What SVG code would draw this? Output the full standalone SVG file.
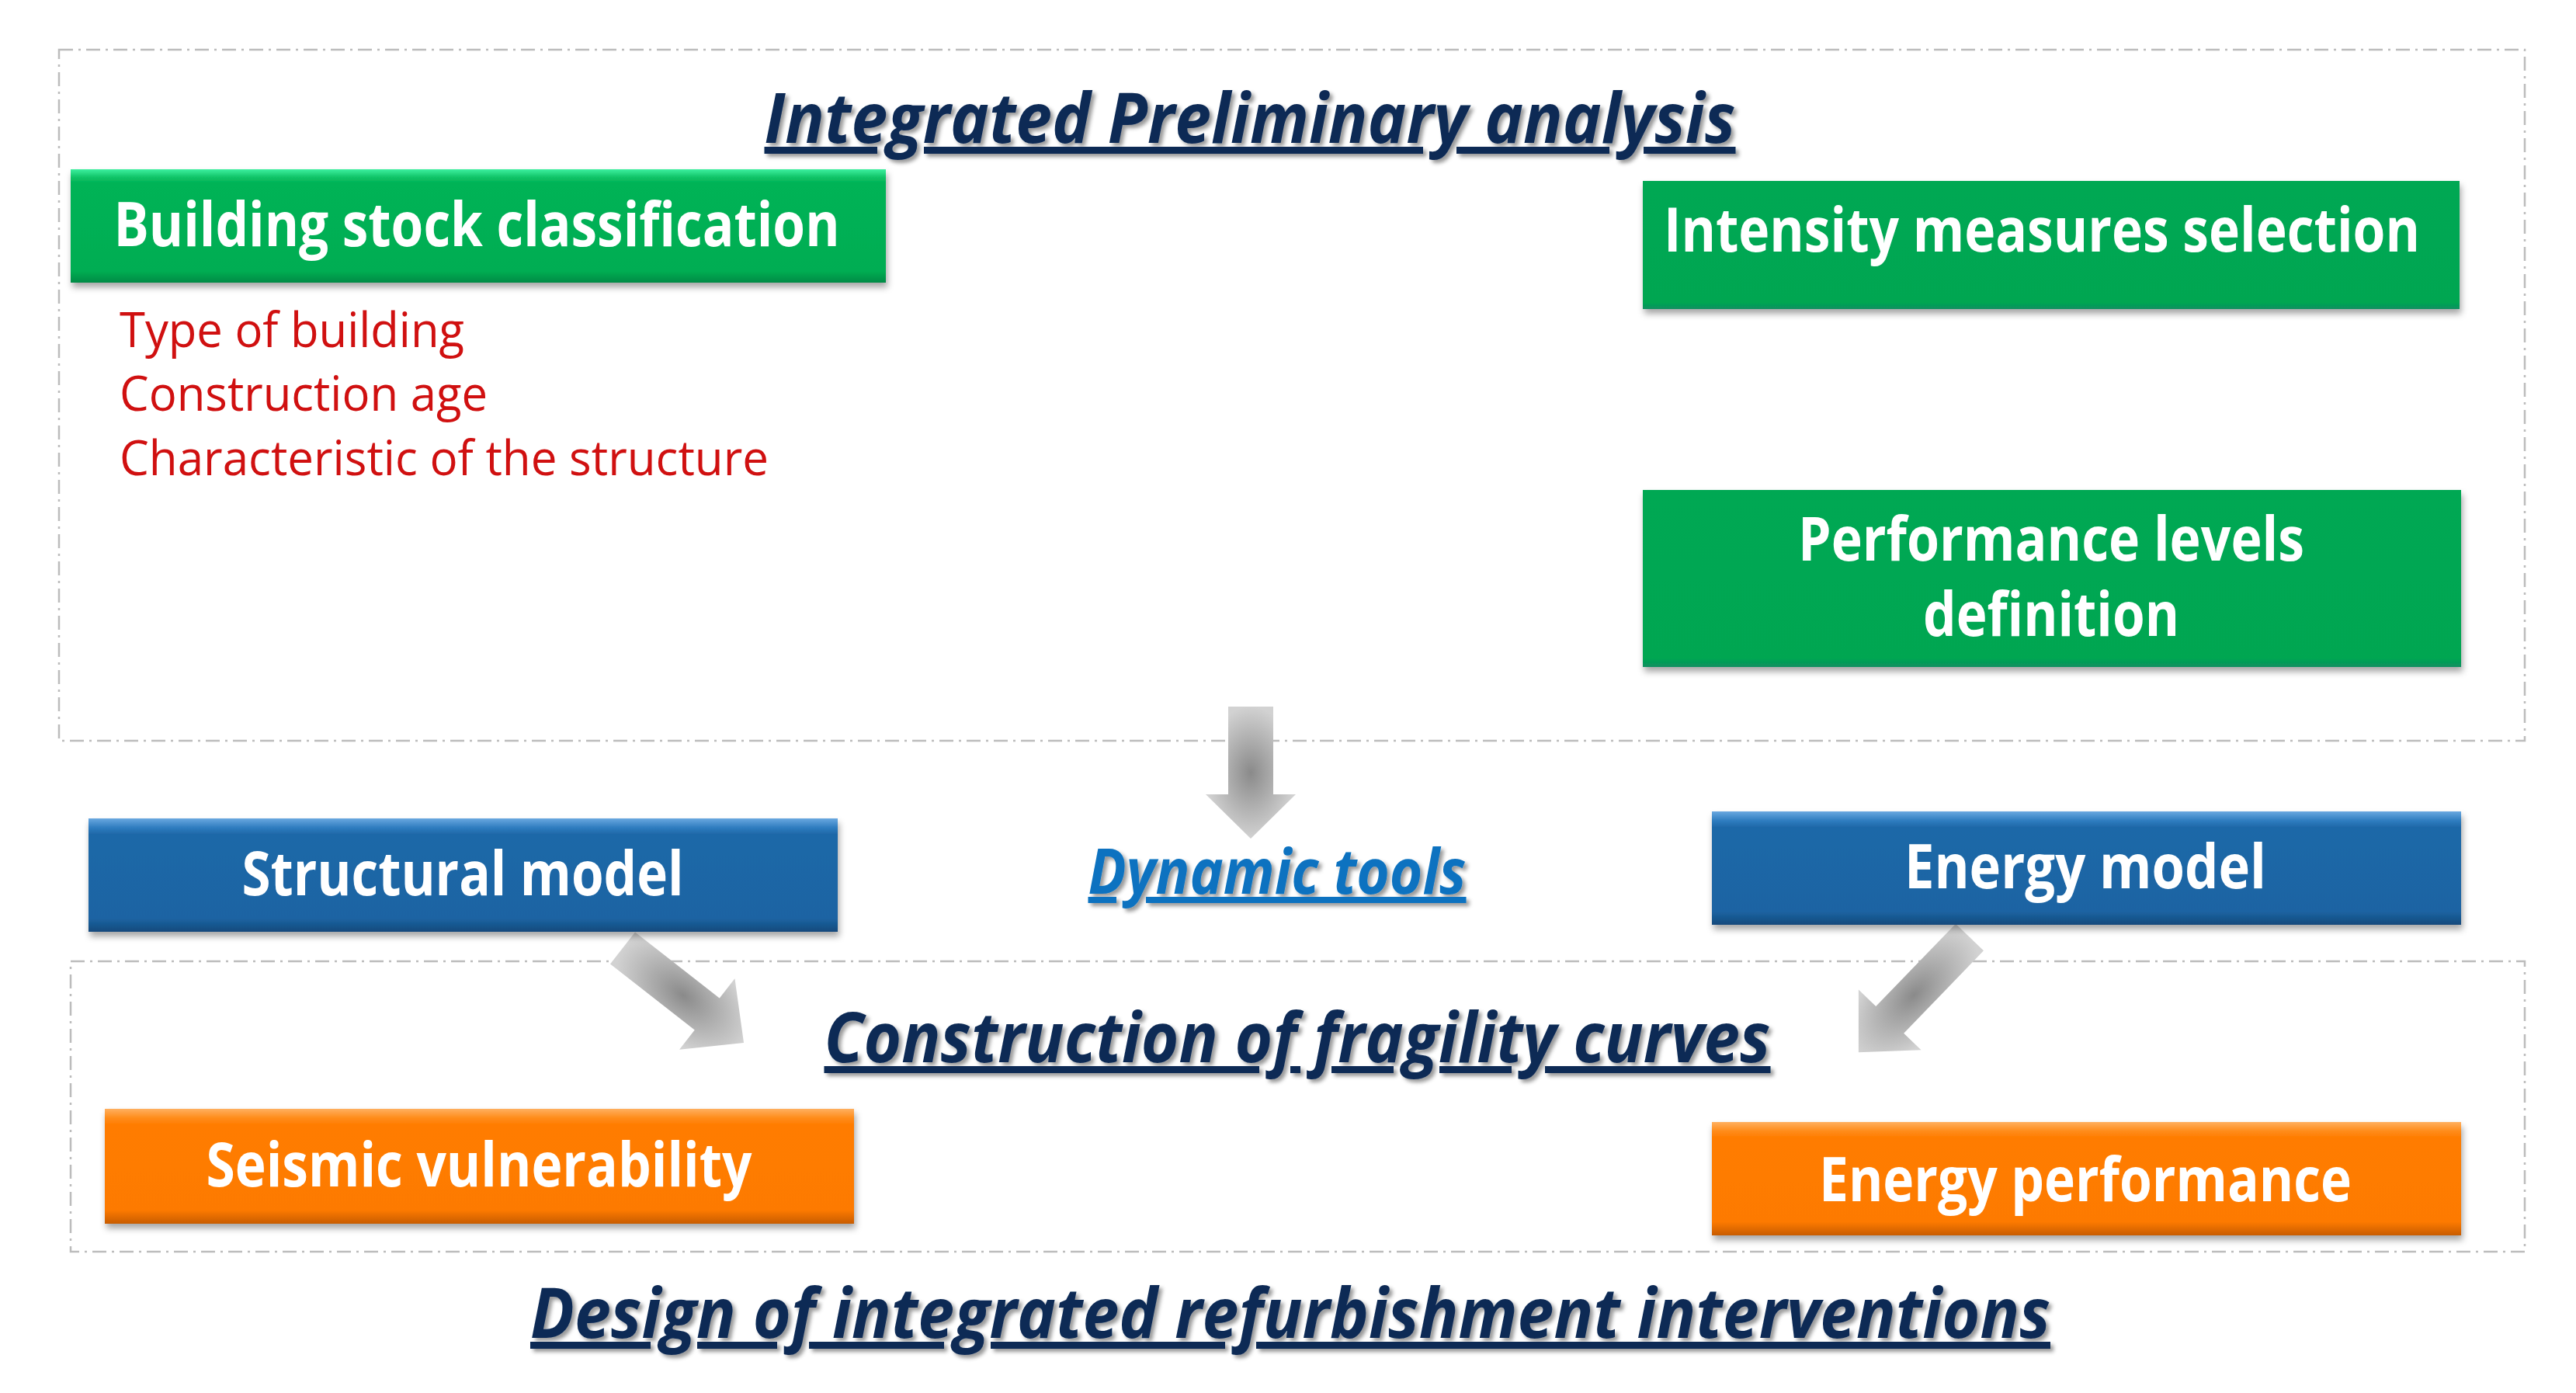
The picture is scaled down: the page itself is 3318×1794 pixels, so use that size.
<svg xmlns="http://www.w3.org/2000/svg" width="3318" height="1794" viewBox="0 0 3318 1794">
<defs>
<style>
.frame{fill:none;stroke:#bcbcbc;stroke-width:2.5;stroke-dasharray:18 7 3 7}
.bt{font-family:"Open Sans","Liberation Sans",sans-serif;font-weight:700;font-size:78px;fill:#ffffff}
.head{font-family:"Open Sans","Liberation Sans",sans-serif;font-weight:700;font-style:italic;font-size:90px;fill:#0c2a55;text-decoration:underline}
.red{font-family:"Open Sans","Liberation Sans",sans-serif;font-size:62px;fill:#d01010}
.dyn{font-family:"Open Sans","Liberation Sans",sans-serif;font-weight:700;font-style:italic;font-size:80px;fill:#0a72c0;text-decoration:underline}
</style>
<linearGradient id="gGreen" x1="0" y1="0" x2="0" y2="1">
<stop offset="0" stop-color="#3cf0a0"/><stop offset="0.07" stop-color="#12c468"/><stop offset="0.12" stop-color="#00b356"/><stop offset="0.9" stop-color="#00ad52"/><stop offset="1" stop-color="#068a45"/>
</linearGradient>
<linearGradient id="gGreen2" x1="0" y1="0" x2="0" y2="1">
<stop offset="0" stop-color="#00a853"/><stop offset="0.95" stop-color="#00a651"/><stop offset="1" stop-color="#0b8f60"/>
</linearGradient>
<linearGradient id="gBlue" x1="0" y1="0" x2="0" y2="1">
<stop offset="0" stop-color="#6aa8e0"/><stop offset="0.08" stop-color="#2f7dc0"/><stop offset="0.14" stop-color="#1f68a8"/><stop offset="0.88" stop-color="#1c64a3"/><stop offset="1" stop-color="#134a7c"/>
</linearGradient>
<linearGradient id="gOrange" x1="0" y1="0" x2="0" y2="1">
<stop offset="0" stop-color="#ffb060"/><stop offset="0.08" stop-color="#ff8c1a"/><stop offset="0.14" stop-color="#ff7c00"/><stop offset="0.88" stop-color="#fd7a02"/><stop offset="1" stop-color="#c85c00"/>
</linearGradient>
<radialGradient id="gArrow" cx="0.5" cy="0.5" r="0.5">
<stop offset="0" stop-color="#8a8a8a"/><stop offset="1" stop-color="#d2d2d2"/>
</radialGradient>
<filter id="shadow" x="-5%" y="-10%" width="110%" height="130%">
<feDropShadow dx="2" dy="6" stdDeviation="4" flood-color="#000000" flood-opacity="0.35"/>
</filter>
<filter id="tshadow" x="-5%" y="-20%" width="110%" height="150%">
<feDropShadow dx="4" dy="4" stdDeviation="2.5" flood-color="#000000" flood-opacity="0.4"/>
</filter>
</defs>
<rect width="3318" height="1794" fill="#ffffff"/>

<g id="frame-preliminary"><rect class="frame" x="76" y="64" width="3176" height="890"/></g>
<g id="frame-fragility"><rect class="frame" x="91" y="1238" width="3161" height="374"/></g>

<g id="connectors">
<g id="arrow-down" transform="translate(1611,910) rotate(90)">
<polygon points="0,-29 113,-29 113,-58 170,0 113,58 113,29 0,29" fill="url(#gArrow)"/>
</g>
<g id="arrow-structural" transform="translate(802,1221) rotate(38)">
<polygon points="0,-26 138,-26 138,-58 198,0 138,58 138,26 0,26" fill="url(#gArrow)"/>
</g>
<g id="arrow-energy" transform="translate(2537,1207) rotate(134)">
<polygon points="0,-25 148,-25 148,-56 206,0 148,56 148,25 0,25" fill="url(#gArrow)"/>
</g>
</g>

<g id="title-preliminary"><text class="head" x="1610" y="184" text-anchor="middle" textLength="1251" lengthAdjust="spacingAndGlyphs" filter="url(#tshadow)">Integrated Preliminary analysis</text></g>

<g id="node-building-stock">
<rect x="91" y="218" width="1050" height="146" fill="url(#gGreen)" filter="url(#shadow)"/>
<text class="bt" x="614" y="317" text-anchor="middle" textLength="935" lengthAdjust="spacingAndGlyphs">Building stock classification</text>
</g>
<g id="building-attributes">
<text class="red" x="154" y="447" textLength="444" lengthAdjust="spacingAndGlyphs">Type of building</text>
<text class="red" x="154" y="529" textLength="474" lengthAdjust="spacingAndGlyphs">Construction age</text>
<text class="red" x="154" y="612" textLength="836" lengthAdjust="spacingAndGlyphs">Characteristic of the structure</text>
</g>

<g id="node-intensity">
<rect x="2116" y="233" width="1052" height="165" fill="url(#gGreen2)" filter="url(#shadow)"/>
<text class="bt" x="2630" y="324" text-anchor="middle" textLength="974" lengthAdjust="spacingAndGlyphs">Intensity measures selection</text>
</g>

<g id="node-performance">
<rect x="2116" y="631" width="1054" height="228" fill="url(#gGreen2)" filter="url(#shadow)"/>
<text class="bt" x="2642" y="722" text-anchor="middle" textLength="652" lengthAdjust="spacingAndGlyphs">Performance levels</text>
<text class="bt" x="2642" y="819" text-anchor="middle" textLength="330" lengthAdjust="spacingAndGlyphs">definition</text>
</g>

<g id="node-structural">
<rect x="114" y="1054" width="965" height="146" fill="url(#gBlue)" filter="url(#shadow)"/>
<text class="bt" x="596" y="1153" text-anchor="middle" textLength="569" lengthAdjust="spacingAndGlyphs">Structural model</text>
</g>

<g id="label-dynamic"><text class="dyn" x="1645" y="1151" text-anchor="middle" textLength="487" lengthAdjust="spacingAndGlyphs" filter="url(#tshadow)">Dynamic tools</text></g>

<g id="node-energy-model">
<rect x="2205" y="1045" width="965" height="146" fill="url(#gBlue)" filter="url(#shadow)"/>
<text class="bt" x="2686" y="1144" text-anchor="middle" textLength="466" lengthAdjust="spacingAndGlyphs">Energy model</text>
</g>

<g id="title-fragility"><text class="head" x="1671" y="1368" text-anchor="middle" textLength="1219" lengthAdjust="spacingAndGlyphs" filter="url(#tshadow)">Construction of fragility curves</text></g>

<g id="node-seismic">
<rect x="135" y="1428" width="965" height="148" fill="url(#gOrange)" filter="url(#shadow)"/>
<text class="bt" x="617" y="1528" text-anchor="middle" textLength="703" lengthAdjust="spacingAndGlyphs">Seismic vulnerability</text>
</g>

<g id="node-energy-performance">
<rect x="2205" y="1445" width="965" height="146" fill="url(#gOrange)" filter="url(#shadow)"/>
<text class="bt" x="2686" y="1547" text-anchor="middle" textLength="686" lengthAdjust="spacingAndGlyphs">Energy performance</text>
</g>

<g id="title-design"><text class="head" x="1662" y="1723" text-anchor="middle" textLength="1958" lengthAdjust="spacingAndGlyphs" filter="url(#tshadow)">Design of integrated refurbishment interventions</text></g>
</svg>
